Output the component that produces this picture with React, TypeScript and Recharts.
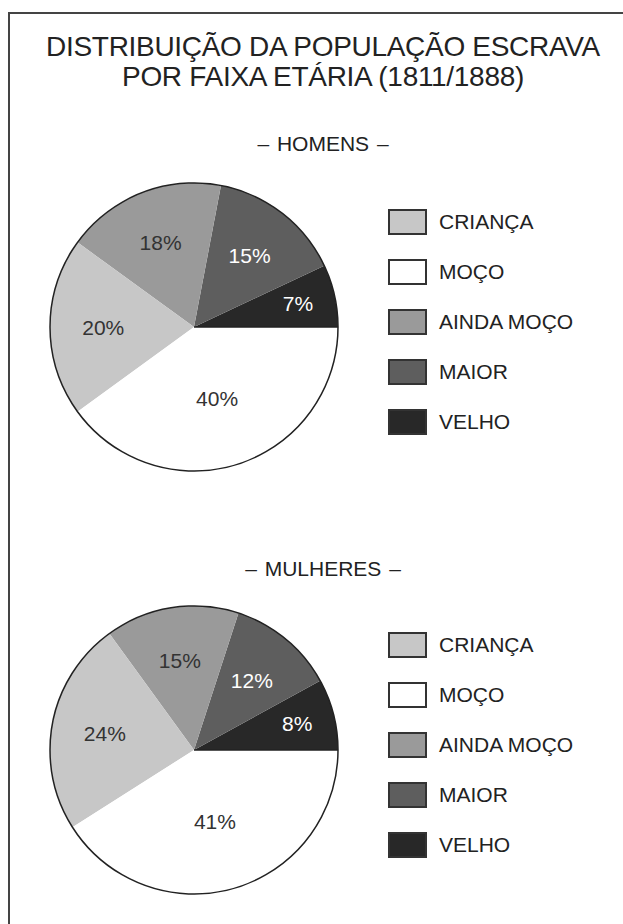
import React from 'react'
import { PieChart, Pie, Cell, Legend } from 'recharts'

const CATEGORIES = ['CRIANÇA', 'MOÇO', 'AINDA MOÇO', 'MAIOR', 'VELHO']
const HOMENS = [20, 40, 18, 15, 7]
const MULHERES = [24, 41, 15, 12, 8]

// order of the slices, starting at 3 o'clock, counterclockwise
const SLICE_ORDER = ['VELHO', 'MAIOR', 'AINDA MOÇO', 'CRIANÇA', 'MOÇO']

const COLORS: Record<string, string> = {
  'CRIANÇA': '#c7c7c7',
  'MOÇO': '#ffffff',
  'AINDA MOÇO': '#9a9a9a',
  'MAIOR': '#5e5e5e',
  'VELHO': '#282828',
}
const LIGHT_LABEL = ['MAIOR', 'VELHO']

const FONT = "'Liberation Sans', Arial, Helvetica, sans-serif"
const RADIAN = Math.PI / 180

const buildData = (values: number[]) =>
  SLICE_ORDER.map((name) => ({ name, value: values[CATEGORIES.indexOf(name)] }))

const renderLabel = (props: any) => {
  const { cx, cy, midAngle, outerRadius, value, index } = props
  const name = SLICE_ORDER[index]
  const k = value < 10 ? 0.74 : value > 30 ? 0.52 : 0.63
  const r = outerRadius * k
  const x = cx + r * Math.cos(-midAngle * RADIAN)
  const y = cy + r * Math.sin(-midAngle * RADIAN)
  return (
    <text
      x={x}
      y={y}
      textAnchor="middle"
      dominantBaseline="central"
      fontSize={21}
      fontFamily={FONT}
      fill={LIGHT_LABEL.includes(name) ? '#ffffff' : '#333333'}
    >
      {`${value}%`}
    </text>
  )
}

const renderLegend = (props: any) => {
  const items = [...(props.payload ?? [])]
    .filter((p: any) => CATEGORIES.includes(p.value))
    .sort((a: any, b: any) => CATEGORIES.indexOf(a.value) - CATEGORIES.indexOf(b.value))
  return (
    <div>
      {items.map((p: any) => (
        <div key={p.value} style={{ display: 'flex', alignItems: 'center', height: 50 }}>
          <div
            style={{
              width: 39,
              height: 26,
              boxSizing: 'border-box',
              border: '2px solid #333',
              background: COLORS[p.value],
            }}
          />
          <span style={{ marginLeft: 12, fontSize: 21, fontFamily: FONT, color: '#222' }}>{p.value}</span>
        </div>
      ))}
    </div>
  )
}

function PieBlock({ values, top }: { values: number[]; top: number }) {
  const data = buildData(values)
  const total = [{ name: 'total', value: values.reduce((a, b) => a + b, 0) }]
  return (
    <div style={{ position: 'absolute', left: 0, top }}>
      <PieChart width={623} height={330} margin={{ top: 0, right: 0, bottom: 0, left: 0 }}>
        <Pie
          data={data}
          dataKey="value"
          nameKey="name"
          cx={194}
          cy={157}
          outerRadius={144}
          startAngle={0}
          endAngle={360}
          stroke="none"
          label={renderLabel}
          labelLine={false}
          isAnimationActive={false}
        >
          {data.map((entry) => (
            <Cell key={entry.name} fill={COLORS[entry.name]} />
          ))}
        </Pie>
        <Pie
          data={total}
          dataKey="value"
          cx={194}
          cy={157}
          outerRadius={144}
          startAngle={0}
          endAngle={360}
          fill="none"
          stroke="#222"
          strokeWidth={1.5}
          legendType="none"
          isAnimationActive={false}
        />
        <Legend
          layout="vertical"
          align="right"
          verticalAlign="top"
          content={renderLegend}
          wrapperStyle={{ left: 388, top: 27, right: 'auto', bottom: 'auto', width: 220 }}
        />
      </PieChart>
    </div>
  )
}

export default function App() {
  return (
    <div
      style={{
        position: 'absolute',
        left: 0,
        top: 0,
        width: 623,
        height: 924,
        overflow: 'hidden',
        background: '#fff',
        fontFamily: FONT,
        color: '#222',
      }}
    >
      {/* moldura: só topo e esquerda aparecem */}
      <div
        style={{
          position: 'absolute',
          left: 8,
          top: 12,
          width: 640,
          height: 940,
          borderTop: '2px solid #444',
          borderLeft: '2px solid #444',
        }}
      />

      <div
        style={{
          position: 'absolute',
          left: 23,
          top: 32,
          width: 600,
          textAlign: 'center',
          fontSize: 28,
          lineHeight: '30px',
          letterSpacing: -0.3,
        }}
      >
        DISTRIBUIÇÃO DA POPULAÇÃO ESCRAVA
        <br />
        POR FAIXA ETÁRIA (1811/1888)
      </div>

      <div
        style={{
          position: 'absolute',
          left: 23,
          top: 132,
          width: 600,
          textAlign: 'center',
          fontSize: 21,
          lineHeight: '24px',
          wordSpacing: 2,
        }}
      >
        – HOMENS –
      </div>
      <PieBlock values={HOMENS} top={170} />

      <div
        style={{
          position: 'absolute',
          left: 23,
          top: 557,
          width: 600,
          textAlign: 'center',
          fontSize: 21,
          lineHeight: '24px',
          wordSpacing: 2,
        }}
      >
        – MULHERES –
      </div>
      <PieBlock values={MULHERES} top={593} />
    </div>
  )
}
